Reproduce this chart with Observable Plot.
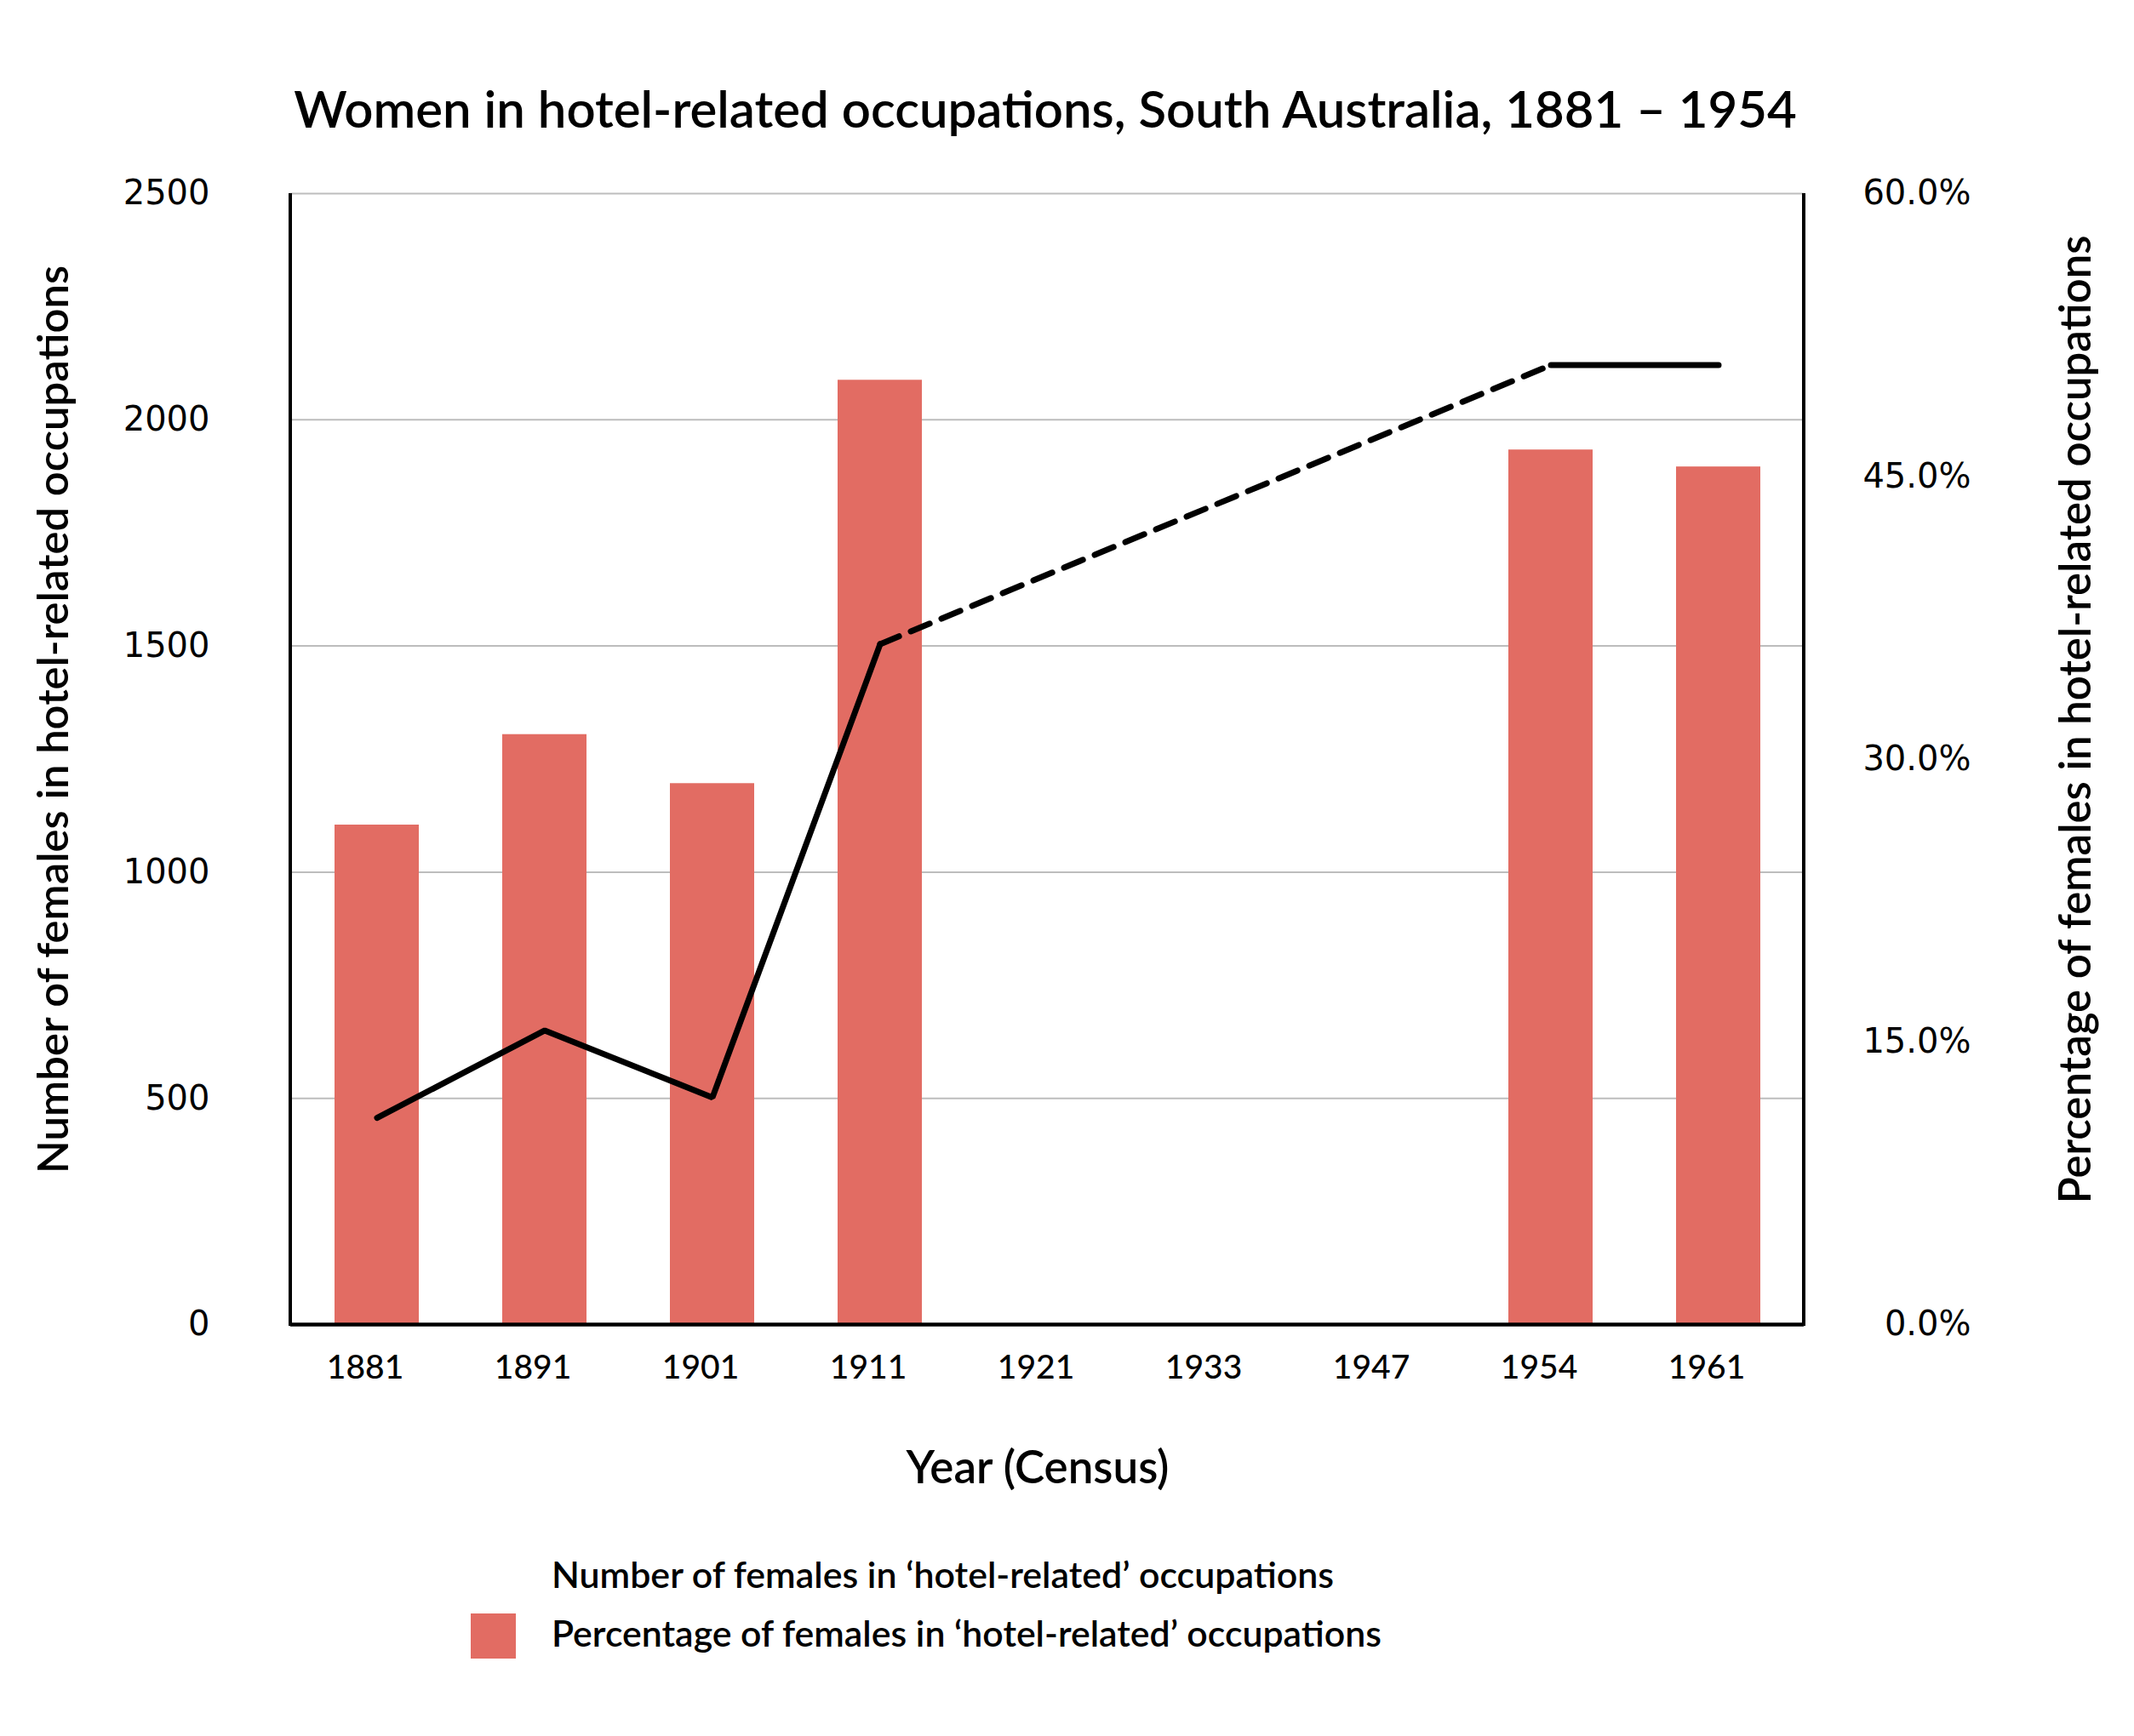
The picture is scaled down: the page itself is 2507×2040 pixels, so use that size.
<!DOCTYPE html>
<html>
<head>
<meta charset="utf-8">
<script src="https://cdn.jsdelivr.net/npm/d3@7"></script>
<script src="https://cdn.jsdelivr.net/npm/@observablehq/plot@0.6"></script>
<style>
  html, body { margin: 0; padding: 0; background: #fff; }
  body { width: 2507px; height: 2040px; position: relative; font-family: Lato, "Noto Sans", sans-serif; color: #000; overflow: hidden; }
  #chart { position: absolute; left: 0; top: 0; }
  .t { position: absolute; white-space: nowrap; line-height: 1; font-weight: 600; }
  #sw { position: absolute; left: 553px; top: 1896px; width: 53px; height: 53px; background: #e26c63; }
</style>
</head>
<body>
<div id="chart"></div>
<div id="sw"></div>
<script>
const years = ["1881", "1891", "1901", "1911", "1921", "1933", "1947", "1954", "1961"];
const pctFemales = [26.5, 31.3, 28.7, 50.1, null, null, null, 46.4, 45.5];
const numFemales = [457, 650, 502, 1504, null, null, null, 2121, 2121];
const leftTicks = [0, 500, 1000, 1500, 2000, 2500];
const rightTicks = [0, 15, 30, 45, 60];
const leftMax = 2500, rightMax = 60;

const titleText = "Women in hotel-related occupations, South Australia, 1881 – 1954";
const leftLabel = "Number of females in hotel-related occupations";
const rightLabel = "Percentage of females in hotel-related occupations";
const xLabel = "Year (Census)";
const legendLine = "Number of females in ‘hotel-related’ occupations";
const legendBar = "Percentage of females in ‘hotel-related’ occupations";

const k = leftMax / rightMax;
const rows = years.map((year, i) => ({year, pct: pctFemales[i], num: numFemales[i]}));
const barRows = rows.filter(d => d.pct != null);
// dashed bridge across the census years without data
const bridge = [];
for (let i = 0; i < rows.length - 1; i++) {
  if (rows[i].num != null && rows[i + 1].num == null) {
    let j = i + 1;
    while (j < rows.length && rows[j].num == null) j++;
    if (j < rows.length) bridge.push(rows[i], rows[j]);
  }
}

const M = {top: 227, bottom: 244, left: 341, right: 388};
const W = 2507, H = 1800;

function sideAxes(...args) {
  const dims = args.find(a => a && typeof a === "object" && "marginLeft" in a) ||
    {width: W, height: H, marginLeft: M.left, marginRight: M.right, marginTop: M.top, marginBottom: M.bottom};
  const g = d3.create("svg:g").attr("stroke", "#000").attr("stroke-width", 4);
  const x0 = dims.marginLeft, x1 = dims.width - dims.marginRight;
  const y0 = dims.marginTop, y1 = dims.height - dims.marginBottom;
  g.append("line").attr("x1", x0).attr("x2", x0).attr("y1", y0).attr("y2", y1 + 2);
  g.append("line").attr("x1", x1).attr("x2", x1).attr("y1", y0).attr("y2", y1 + 2);
  return g.node();
}

const chart = Plot.plot({
  width: W,
  height: H,
  marginTop: M.top,
  marginBottom: M.bottom,
  marginLeft: M.left,
  marginRight: M.right,
  style: {fontFamily: "Lato, 'Noto Sans', sans-serif", fontSize: "38px", background: "transparent", color: "#000"},
  x: {type: "band", domain: years, paddingInner: 0.5, paddingOuter: 0.25},
  y: {domain: [0, leftMax]},
  marks: [
    Plot.gridY(leftTicks, {stroke: "#bdbdbd", strokeOpacity: 1, strokeWidth: 2}),
    Plot.barY(barRows, {x: "year", y: d => d.pct * k, fill: "#e26c63"}),
    Plot.lineY(rows, {x: "year", y: "num", stroke: "#000", strokeWidth: 7, strokeLinejoin: "miter"}),
    Plot.lineY(bridge, {x: "year", y: "num", stroke: "#000", strokeWidth: 7, strokeDasharray: "24,15"}),
    Plot.axisY(leftTicks, {anchor: "left", tickSize: 0, tickPadding: 95, fontSize: 40,
      fontFamily: "'DejaVu Sans', sans-serif", tickFormat: d => String(d), label: null}),
    Plot.axisY(rightTicks.map(v => v * k), {anchor: "right", tickSize: 0, tickPadding: 196, textAnchor: "end", fontSize: 40,
      fontFamily: "'DejaVu Sans', sans-serif", tickFormat: v => (v / k).toFixed(1) + "%", label: null}),
    Plot.axisX({anchor: "bottom", tickSize: 0, tickPadding: 36, fontSize: 39, fontWeight: 500, dx: -14, label: null}),
    sideAxes,
    Plot.ruleY([0], {stroke: "#000", strokeWidth: 4.5})
  ]
});
document.getElementById("chart").appendChild(chart);

// text blocks: [text, target width, center x, center y, rotation]
const texts = [
  [titleText, 1766, 1228, 128, 0],
  [leftLabel, 1067, 61, 845, -90],
  [rightLabel, 1138, 2438, 845, -90],
  [xLabel, 309, 1219, 1723, 0],
  [legendLine, 919, 648 + 919 / 2, 1850, 0],
  [legendBar, 975, 648 + 975 / 2, 1919, 0]
];
for (const [str, target, cx, cy, rot] of texts) {
  const el = document.createElement("div");
  el.className = "t";
  el.textContent = str;
  el.style.fontSize = "50px";
  document.body.appendChild(el);
  const w0 = el.getBoundingClientRect().width;
  const fs = 50 * target / w0;
  el.style.fontSize = fs.toFixed(2) + "px";
  const r = el.getBoundingClientRect();
  const w = r.width, h = r.height;
  el.style.left = (cx - w / 2) + "px";
  el.style.top = (cy - h / 2) + "px";
  if (rot) el.style.transform = `rotate(${rot}deg)`;
}
</script>
</body>
</html>
